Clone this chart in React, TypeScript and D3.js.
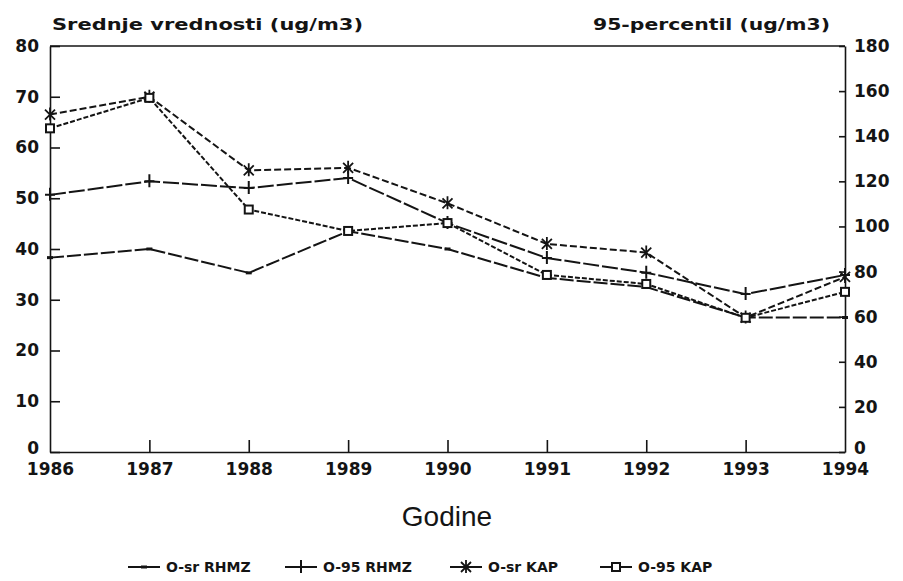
import React, { useRef, useEffect } from "react";
import { select, scaleLinear, axisLeft, axisRight, axisBottom, line } from "d3";

// years on the x axis
const years = [1986, 1987, 1988, 1989, 1990, 1991, 1992, 1993, 1994];

// mean values, left axis (ug/m3)
const srRHMZ = [38.3, 40, 35.3, 43.5, 40, 34.3, 32.5, 26.5, 26.5];
const srKAP = [66.5, 70, 55.5, 56, 49, 41, 39.3, 26.5, 34.5];

// 95-percentile, right axis (ug/m3)
const p95RHMZ = [114, 120, 117, 121.5, 101.5, 86, 79.5, 70, 78.5];
const p95KAP = [143.5, 157, 107.5, 98, 101.5, 78.5, 74.5, 59.5, 71];

const leftTicks = [0, 10, 20, 30, 40, 50, 60, 70, 80];
const rightTicks = [0, 20, 40, 60, 80, 100, 120, 140, 160, 180];

const legendLabels = ["O-sr RHMZ", "O-95 RHMZ", "O-sr KAP", "O-95 KAP"];

const ink = "#141414";

const drawMarker = (g, kind) => {
  if (kind === "dot") {
    g.append("rect").attr("x", -3).attr("y", -1.5).attr("width", 6).attr("height", 3).attr("fill", ink);
  } else if (kind === "plus") {
    g.append("path").attr("d", "M-5,0H5M0,-7V6").attr("stroke", ink).attr("stroke-width", 2).attr("fill", "none");
  } else if (kind === "star") {
    g.append("path")
      .attr("d", "M0,-7V6M-5,-5L5,5M-5,5L5,-5")
      .attr("stroke", ink)
      .attr("stroke-width", 1.8)
      .attr("fill", "none");
  } else {
    g.append("rect")
      .attr("x", -4)
      .attr("y", -4)
      .attr("width", 8)
      .attr("height", 8)
      .attr("fill", "white")
      .attr("stroke", ink)
      .attr("stroke-width", 2);
  }
};

const App = () => {
  const svgRef = useRef(null);

  useEffect(() => {
    const svg = select(svgRef.current);
    svg.selectAll("*").remove();

    const plot = { left: 50, right: 845, top: 46, bottom: 452 };

    const x = scaleLinear().domain([1986, 1994]).range([plot.left, plot.right]);
    const yL = scaleLinear().domain([0, 80]).range([plot.bottom, plot.top]);
    const yR = scaleLinear().domain([0, 180]).range([plot.bottom, plot.top]);

    const tickFont = (sel) =>
      sel
        .selectAll("text")
        .attr("font-family", "DejaVu Sans")
        .attr("font-weight", "bold")
        .attr("font-size", 17)
        .attr("fill", ink);

    // frame top line
    svg
      .append("line")
      .attr("x1", plot.left)
      .attr("x2", plot.right)
      .attr("y1", plot.top)
      .attr("y2", plot.top)
      .attr("stroke", ink)
      .attr("stroke-width", 1.6);

    const gl = svg
      .append("g")
      .attr("transform", `translate(${plot.left},0)`)
      .call(axisLeft(yL).tickValues(leftTicks).tickSize(-10).tickSizeOuter(0).tickPadding(11));
    gl.call(tickFont);

    const gr = svg
      .append("g")
      .attr("transform", `translate(${plot.right},0)`)
      .call(axisRight(yR).tickValues(rightTicks).tickSize(-6).tickSizeOuter(0).tickPadding(9));
    gr.call(tickFont);

    // lift the two zero labels a little so they clear the year labels
    gl.selectAll(".tick").filter((d) => d === 0).select("text").attr("dy", "0.1em");
    gr.selectAll(".tick").filter((d) => d === 0).select("text").attr("dy", "0.1em");

    const gb = svg
      .append("g")
      .attr("transform", `translate(0,${plot.bottom})`)
      .call(axisBottom(x).tickValues(years).tickFormat((d) => String(d)).tickSize(-12).tickSizeOuter(0).tickPadding(11));
    gb.call(tickFont);
    gb.selectAll(".tick")
      .filter((d) => d === 1986 || d === 1994)
      .select("line")
      .remove();

    svg.selectAll(".domain").attr("stroke", ink).attr("stroke-width", 1.6);
    svg.selectAll(".tick line").attr("stroke", ink).attr("stroke-width", 1.6);

    // titles
    svg
      .append("text")
      .attr("x", 52)
      .attr("y", 30)
      .attr("font-family", "DejaVu Sans")
      .attr("font-weight", "bold")
      .attr("font-size", 16)
      .attr("textLength", 311)
      .attr("lengthAdjust", "spacingAndGlyphs")
      .attr("fill", ink)
      .text("Srednje vrednosti (ug/m3)");

    svg
      .append("text")
      .attr("x", 593)
      .attr("y", 30)
      .attr("font-family", "DejaVu Sans")
      .attr("font-weight", "bold")
      .attr("font-size", 16)
      .attr("textLength", 237)
      .attr("lengthAdjust", "spacingAndGlyphs")
      .attr("fill", ink)
      .text("95-percentil (ug/m3)");

    svg
      .append("text")
      .attr("x", 447)
      .attr("y", 526)
      .attr("text-anchor", "middle")
      .attr("font-family", "Liberation Sans")
      .attr("font-size", 28)
      .attr("fill", ink)
      .text("Godine");

    const series = [
      { values: srRHMZ, y: yL, marker: "dot", dash: "14,3" },
      { values: p95RHMZ, y: yR, marker: "plus", dash: "16,3" },
      { values: srKAP, y: yL, marker: "star", dash: "7,3" },
      { values: p95KAP, y: yR, marker: "square", dash: "5,2" },
    ];

    series.forEach((s) => {
      const pts = years.map((yr, i) => [x(yr), s.y(s.values[i])]);
      svg
        .append("path")
        .attr("d", line()(pts))
        .attr("fill", "none")
        .attr("stroke", ink)
        .attr("stroke-width", 2)
        .attr("stroke-dasharray", s.dash);
      pts.forEach(([px, py]) => {
        const g = svg.append("g").attr("transform", `translate(${px},${py})`);
        drawMarker(g, s.marker);
      });
    });

    // legend
    const legendX = [128, 285, 450, 600];
    const legendY = 567;
    series.forEach((s, i) => {
      const lx = legendX[i];
      svg
        .append("line")
        .attr("x1", lx)
        .attr("x2", lx + 32)
        .attr("y1", legendY)
        .attr("y2", legendY)
        .attr("stroke", ink)
        .attr("stroke-width", 2);
      const g = svg.append("g").attr("transform", `translate(${lx + 16},${legendY})`);
      drawMarker(g, s.marker);
      svg
        .append("text")
        .attr("x", lx + 38)
        .attr("y", legendY + 5)
        .attr("font-family", "DejaVu Sans")
        .attr("font-weight", "bold")
        .attr("font-size", 14)
        .attr("fill", ink)
        .text(legendLabels[i]);
    });
  }, []);

  return (
    <svg
      ref={svgRef}
      width={903}
      height={581}
      style={{ position: "absolute", left: 0, top: 0, background: "white" }}
    ></svg>
  );
};

export default App;
